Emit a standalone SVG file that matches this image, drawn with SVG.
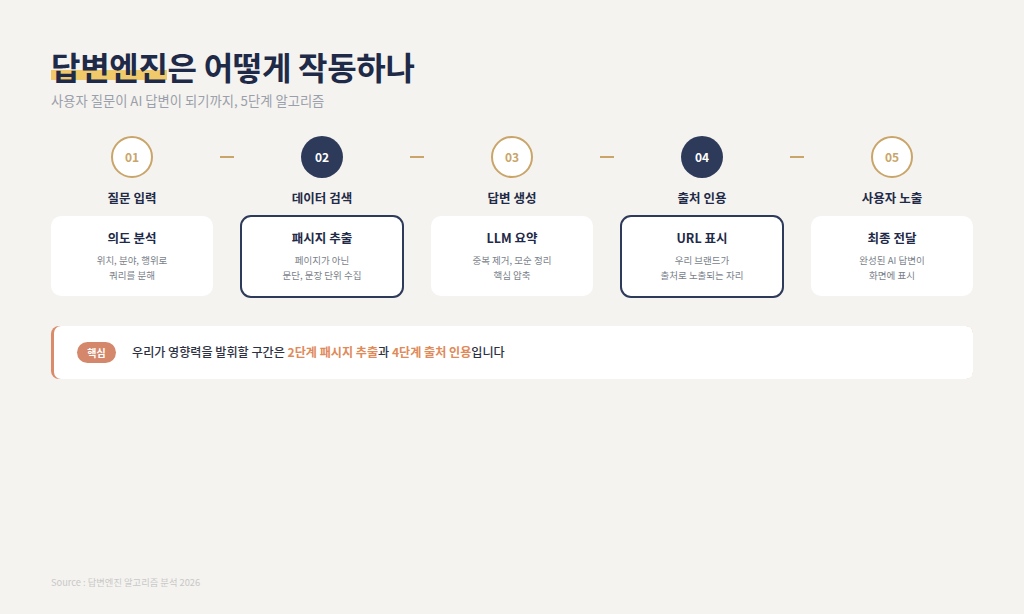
<svg xmlns="http://www.w3.org/2000/svg" width="1024" height="614" viewBox="0 0 1024 614">
<style>
text{font-family:"Noto Sans CJK KR","Noto Sans",sans-serif}
.title{font-size:32px;font-weight:700;fill:#1e2a47}
.sub{font-size:13.3px;fill:#9aa0ab}
.co{fill:#fff;stroke:#c9a56a;stroke-width:2}
.cf{fill:#2d3a5a}
.no{font-size:12px;font-weight:700;fill:#c9a56a;text-anchor:middle}
.nf{font-size:12px;font-weight:700;fill:#fff;text-anchor:middle}
.lbl{font-size:12.5px;font-weight:700;fill:#1e2a47;text-anchor:middle}
.card{fill:#fff}
.cardh{fill:#fff;stroke:#2d3a5a;stroke-width:2}
.ct{font-size:12.5px;font-weight:700;fill:#1e2a47;text-anchor:middle}
.cd{font-size:9.5px;fill:#7a7f8a;text-anchor:middle}
.dash{stroke:#c9a56a;stroke-width:2}
.main{font-size:12.1px;font-weight:500;fill:#2d3142}
.hl{fill:#e08a5a;font-weight:700}
</style>
<rect width="1024" height="614" fill="#f5f3ef"/>
<g id="header">
<rect x="51" y="70" width="116" height="10" fill="#f0c96b"/>
<text class="title" x="51" y="79.5" letter-spacing="-0.3">답변엔진은 어떻게 작동하나</text>
<text class="sub" x="51" y="106">사용자 질문이 AI 답변이 되기까지, 5단계 알고리즘</text>
</g>
<g id="connectors">
<line class="dash" x1="220" y1="157" x2="234" y2="157"/>
<line class="dash" x1="410" y1="157" x2="424" y2="157"/>
<line class="dash" x1="600" y1="157" x2="614" y2="157"/>
<line class="dash" x1="790" y1="157" x2="804" y2="157"/>
</g>
<g id="step1">
<circle class="co" cx="132" cy="157" r="20"/>
<text class="no" x="132" y="161.5">01</text>
<text class="lbl" x="132" y="202.5">질문 입력</text>
<rect class="card" x="51" y="216" width="162" height="80" rx="10"/>
<text class="ct" x="132" y="243">의도 분석</text>
<text class="cd" x="132" y="264">위치, 분야, 행위로</text>
<text class="cd" x="132" y="279">쿼리를 분해</text>
</g>
<g id="step2">
<circle class="cf" cx="322" cy="157" r="21"/>
<text class="nf" x="322" y="161.5">02</text>
<text class="lbl" x="322" y="202.5">데이터 검색</text>
<rect class="cardh" x="241" y="216" width="162" height="81" rx="10"/>
<text class="ct" x="322" y="243">패시지 추출</text>
<text class="cd" x="322" y="264">페이지가 아닌</text>
<text class="cd" x="322" y="279">문단, 문장 단위 수집</text>
</g>
<g id="step3">
<circle class="co" cx="512" cy="157" r="20"/>
<text class="no" x="512" y="161.5">03</text>
<text class="lbl" x="512" y="202.5">답변 생성</text>
<rect class="card" x="431" y="216" width="162" height="80" rx="10"/>
<text class="ct" x="512" y="243">LLM 요약</text>
<text class="cd" x="512" y="264">중복 제거, 모순 정리</text>
<text class="cd" x="512" y="279">핵심 압축</text>
</g>
<g id="step4">
<circle class="cf" cx="702" cy="157" r="21"/>
<text class="nf" x="702" y="161.5">04</text>
<text class="lbl" x="702" y="202.5">출처 인용</text>
<rect class="cardh" x="621" y="216" width="162" height="81" rx="10"/>
<text class="ct" x="702" y="243">URL 표시</text>
<text class="cd" x="702" y="264">우리 브랜드가</text>
<text class="cd" x="702" y="279">출처로 노출되는 자리</text>
</g>
<g id="step5">
<circle class="co" cx="892" cy="157" r="20"/>
<text class="no" x="892" y="161.5">05</text>
<text class="lbl" x="892" y="202.5">사용자 노출</text>
<rect class="card" x="811" y="216" width="162" height="80" rx="10"/>
<text class="ct" x="892" y="243">최종 전달</text>
<text class="cd" x="892" y="264">완성된 AI 답변이</text>
<text class="cd" x="892" y="279">화면에 표시</text>
</g>
<g id="callout">
<rect x="51" y="326" width="922" height="53" rx="8" fill="#d98b6a"/>
<rect x="54" y="326" width="919" height="53" rx="7" fill="#fff"/>
<rect x="77" y="342" width="39" height="21" rx="10.5" fill="#d4876a"/>
<text x="96.5" y="356.5" font-size="10" font-weight="700" fill="#fff" text-anchor="middle">핵심</text>
<text class="main" x="132" y="357">우리가 영향력을 발휘할 구간은 <tspan class="hl">2단계 패시지 추출</tspan>과 <tspan class="hl">4단계 출처 인용</tspan>입니다</text>
</g>
<text x="51" y="586" font-size="9.3" fill="#c8c8c8">Source : 답변엔진 알고리즘 분석 2026</text>
</svg>
